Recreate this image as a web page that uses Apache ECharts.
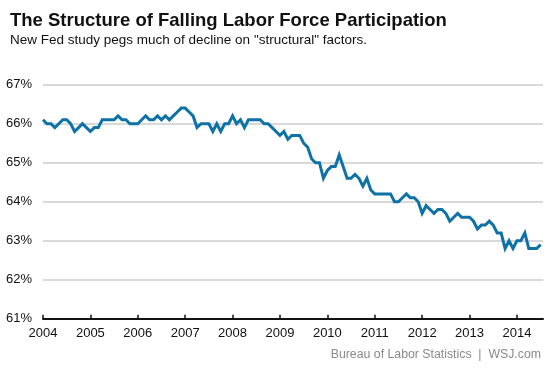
<!DOCTYPE html>
<html>
<head>
<meta charset="utf-8">
<script src="https://cdn.jsdelivr.net/npm/echarts@6/dist/echarts.min.js"></script>
<style>
html,body{margin:0;padding:0;background:#fff;}
#c{width:553px;height:369px;}
</style>
</head>
<body>
<div id="c"></div>
<script>
const years = [2004,2005,2006,2007,2008,2009,2010,2011,2012,2013,2014];
const tickLabels = ['61%','62%','63%','64%','65%','66%','67%'];
const rate2004 = [66.1,66.0,66.0,65.9,66.0,66.1,66.1,66.0,65.8,65.9,66.0,65.9];
const rate2005 = [65.8,65.9,65.9,66.1,66.1,66.1,66.1,66.2,66.1,66.1,66.0,66.0];
const rate2006 = [66.0,66.1,66.2,66.1,66.1,66.2,66.1,66.2,66.1,66.2,66.3,66.4];
const rate2007 = [66.4,66.3,66.2,65.9,66.0,66.0,66.0,65.8,66.0,65.8,66.0,66.0];
const rate2008 = [66.2,66.0,66.1,65.9,66.1,66.1,66.1,66.1,66.0,66.0,65.9,65.8];
const rate2009 = [65.7,65.8,65.6,65.7,65.7,65.7,65.5,65.4,65.1,65.0,65.0,64.6];
const rate2010 = [64.8,64.9,64.9,65.2,64.9,64.6,64.6,64.7,64.6,64.4,64.6,64.3];
const rate2011 = [64.2,64.2,64.2,64.2,64.2,64.0,64.0,64.1,64.2,64.1,64.1,64.0];
const rate2012 = [63.7,63.9,63.8,63.7,63.8,63.8,63.7,63.5,63.6,63.7,63.6,63.6];
const rate2013 = [63.6,63.5,63.3,63.4,63.4,63.5,63.4,63.2,63.2,62.8,63.0,62.8];
const rate2014 = [63.0,63.0,63.2,62.8,62.8,62.8,62.9];

const allYears = [rate2004,rate2005,rate2006,rate2007,rate2008,rate2009,rate2010,rate2011,rate2012,rate2013,rate2014];
const data = [];
allYears.forEach((arr, yi) => {
  arr.forEach((v, m) => data.push([years[yi] + m / 12, v]));
});

const chart = echarts.init(document.getElementById('c'), null, {renderer: 'canvas'});
const font = 'Arial, "Liberation Sans", sans-serif';
chart.setOption({
  animation: false,
  backgroundColor: '#ffffff',
  title: [
    {text: 'The Structure of Falling Labor Force Participation', left: 10, top: 11, padding: 0,
     textStyle: {fontFamily: font, fontSize: 18.5, fontWeight: 'bold', color: '#111'}},
    {text: 'New Fed study pegs much of decline on "structural" factors.', left: 10, top: 33.5, padding: 0,
     textStyle: {fontFamily: font, fontSize: 13.5, fontWeight: 'normal', color: '#111'}},
    {text: 'Bureau of Labor Statistics  |  WSJ.com', right: 12, top: 349, padding: 0,
     textStyle: {fontFamily: font, fontSize: 12.3, fontWeight: 'normal', color: '#8a8a8a'}}
  ],
  grid: {left: 43, right: 10, top: 84.7, bottom: 50.3, containLabel: false},
  xAxis: {
    type: 'value', min: 2004, max: 2014.55, interval: 1,
    axisLine: {show: true, onZero: false, lineStyle: {color: '#111', width: 2}},
    axisTick: {show: true, inside: true, length: 4, lineStyle: {color: '#111', width: 1.5}},
    splitLine: {show: false},
    axisLabel: {color: '#111', fontFamily: font, fontSize: 13, margin: 8,
      showMaxLabel: false,
      formatter: v => (Number.isInteger(v) ? String(v) : '')}
  },
  yAxis: {
    type: 'value', min: 61, max: 67, interval: 1,
    axisLine: {show: false}, axisTick: {show: false},
    splitLine: {show: true, lineStyle: {color: '#cccccc', width: 1.5}},
    axisLabel: {color: '#111', fontFamily: font, fontSize: 13, margin: 11,
      formatter: v => tickLabels[Math.round(v - 61)]}
  },
  series: [{
    type: 'line', data: data, symbol: 'none', smooth: false,
    lineStyle: {color: '#0f72a6', width: 3, join: 'miter'}
  }]
});
</script>
</body>
</html>
